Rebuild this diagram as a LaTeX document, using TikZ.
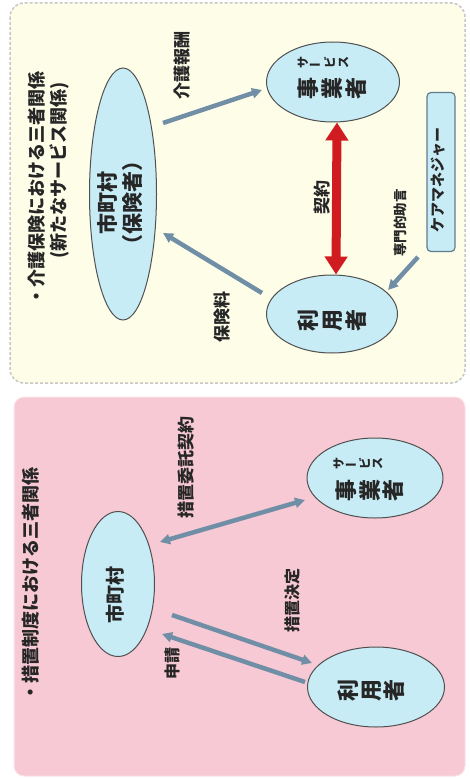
\documentclass[tikz,border=0pt]{standalone}
\usepackage{fontspec}
\setmainfont{Noto Sans CJK JP}
\usepackage{graphicx}
\usetikzlibrary{shapes.geometric,arrows.meta,calc}
\definecolor{cream}{RGB}{253,253,232}
\definecolor{pinkbg}{RGB}{247,201,212}
\definecolor{ellfill}{RGB}{200,236,246}
\definecolor{ellline}{RGB}{80,80,80}
\definecolor{arrblue}{RGB}{112,143,166}
\definecolor{arrred}{RGB}{208,28,32}
\definecolor{boxline}{RGB}{95,125,145}
\newcommand\jfs[2]{\fontsize{#1}{#2}\selectfont\bfseries}
\begin{document}
\begin{tikzpicture}[x=1pt,y=-1pt,
  ell/.style={ellipse, draw=ellline, line width=1pt, fill=ellfill, inner sep=0pt},
  lbl/.style={rotate=90, inner sep=0pt, align=center, text=black!85},
  arr/.style={draw=arrblue, line width=4.5pt, -{Triangle[length=10pt,width=10pt]}},
  darr/.style={draw=arrblue, line width=4.5pt, {Triangle[length=10pt,width=10pt]}-{Triangle[length=10pt,width=10pt]}},
  redarr/.style={draw=arrred, line width=9pt, {Triangle[length=18pt,width=22pt]}-{Triangle[length=18pt,width=22pt]}}
]
\useasboundingbox (0,0) rectangle (470,778);
% panels
\draw[fill=cream, draw=black!22, dash pattern=on 3pt off 2pt, line width=1.5pt, rounded corners=14pt] (10,3) rectangle (465,383);
\draw[fill=pinkbg, draw=pinkbg!50!white, line width=1pt, rounded corners=10pt] (14,397) rectangle (465,776);

% ---------- top panel ----------
\node[lbl, font=\jfs{18}{20}] (t1) at (37,188) {・介護保険における三者関係};
\node[lbl, font=\jfs{18}{20}] (t2) at (59,170) {(新たなサービス関係)};

\node[ell, minimum width=67pt, minimum height=252pt] (mc1) at (123,194) {};
\node[lbl, font=\jfs{21}{25}] (mc1t) at (120,203) {市町村\\（保険者）};

\node[ell, minimum width=133pt, minimum height=80pt] (jg1) at (333,82) {};
\node[lbl, font=\jfs{12}{13.5}] (jg1r) at (323,63) {サ\\\rotatebox{90}{ー}\\ビ\\ス};
\node[lbl, font=\jfs{22}{24}] (jg1t) at (332,89) {事\\業\\者};

\node[ell, minimum width=131pt, minimum height=78pt] (ry1) at (332,314) {};
\node[lbl, font=\jfs{22}{24}] (ry1t) at (332,320) {利\\用\\者};

\node[draw=boxline, fill=ellfill, rounded corners=4pt, line width=1.2pt, minimum width=28pt, minimum height=159pt, inner sep=0pt] (cm) at (441,172) {};
\node[lbl, font=\jfs{15}{16}] (cmt) at (438,180) {ケアマネジャー};

\node[lbl, font=\jfs{17}{18}] (kh) at (182,66) {介護報酬};
\node[lbl, font=\jfs{17}{18}] (hr) at (222,317) {保険料};
\node[lbl, font=\jfs{17}{18}] (ky) at (322,197) {契約};
\node[lbl, font=\jfs{13.5}{14}] (sj) at (400,223) {専門的助言};

\draw[arr] ($(mc1)+(40,-71)$) -- ($(jg1)+(-71,8)$);
\draw[arr] ($(ry1)+(-70,-21)$) -- ($(mc1)+(40,39)$);
\draw[redarr] ([xshift=4pt]jg1.south) -- ([xshift=4pt]ry1.north);
\draw[arr] ($(cm)+(-23,85)$) -- ($(ry1)+(56,-24)$);

% ---------- bottom panel ----------
\node[lbl, font=\jfs{18}{20}] (t3) at (31,584) {・措置制度における三者関係};

\node[ell, minimum width=73pt, minimum height=145pt] (mc2) at (118,584) {};
\node[lbl, font=\jfs{19}{20}] (mc2t) at (115,595) {市町村};

\node[ell, minimum width=136pt, minimum height=80pt] (jg2) at (375,478) {};
\node[lbl, font=\jfs{12}{12.5}] (jg2r) at (358,463) {サ\\\rotatebox{90}{ー}\\ビ\\ス};
\node[lbl, font=\jfs{22}{23.5}] (jg2t) at (370,490) {事\\業\\者};

\node[ell, minimum width=137pt, minimum height=80pt] (ry2) at (376,687) {};
\node[lbl, font=\jfs{22}{23}] (ry2t) at (371,690) {利\\用\\者};

\node[lbl, font=\jfs{17}{18}] (si) at (186,467) {措置委託契約};
\node[lbl, font=\jfs{16}{17}] (sk) at (292,600) {措置決定};
\node[lbl, font=\jfs{16}{17}] (ss) at (172,663) {申請};

\draw[darr] ($(mc2)+(42,-42)$) -- ($(jg2)+(-70,22)$);
\draw[arr] ($(mc2)+(54,31)$) -- ($(ry2)+(-64,-24)$);
\draw[arr] ($(ry2)+(-71,-5)$) -- ($(mc2)+(44,50)$);
\end{tikzpicture}
\end{document}
